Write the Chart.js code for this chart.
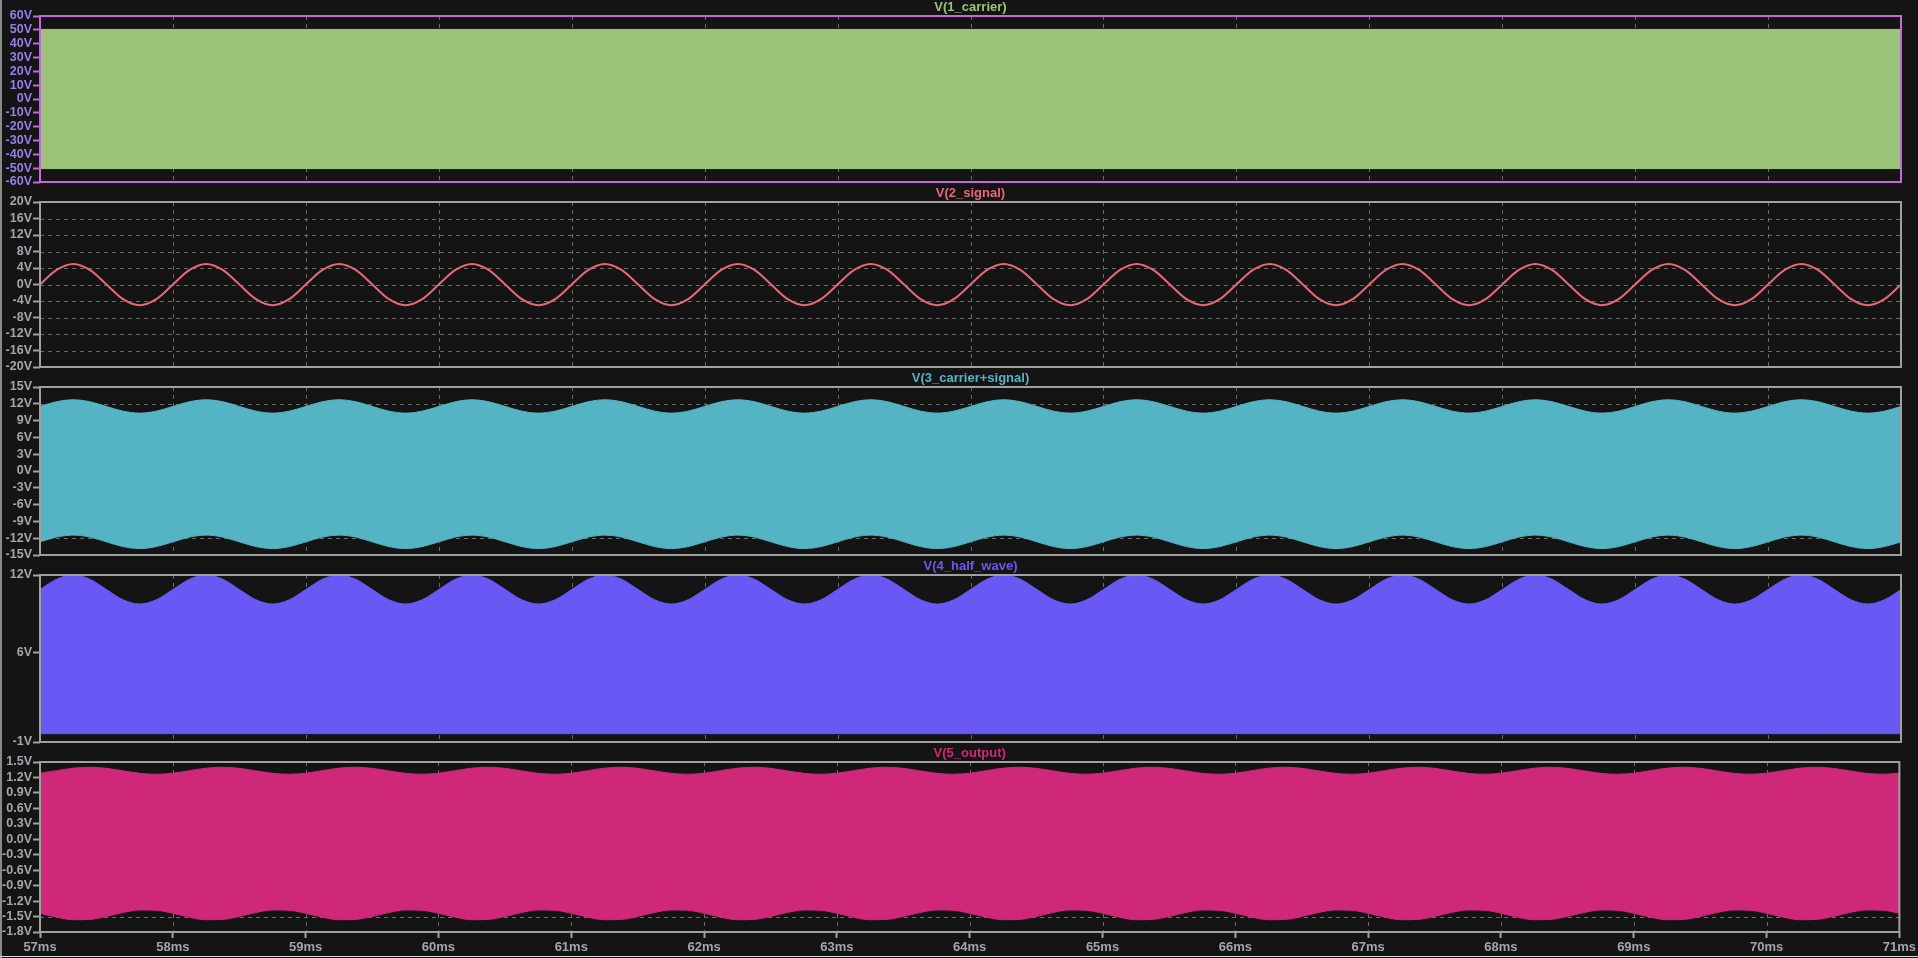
<!DOCTYPE html>
<html>
<head>
<meta charset="utf-8">
<script src="https://cdn.jsdelivr.net/npm/chart.js@4/dist/chart.umd.min.js"></script>
<style>
  html, body { margin:0; padding:0; background:#141414; width:1918px; height:958px; overflow:hidden; }
  canvas { position:absolute; left:0; top:0; }
  #edgeL { position:absolute; left:0; top:0; width:2px; height:958px; background:#8a8a8a; }
  #edgeB { position:absolute; left:0; top:956px; width:1918px; height:1px; background:#d8d8d8; }
</style>
</head>
<body>
<div id="edgeL"></div>
<div id="edgeB"></div>
<script>
// ---------- data ----------
const xTicksMs = [57,58,59,60,61,62,63,64,65,66,67,68,69,70,71];

const timeMs = [
57,57.125,57.25,57.375,57.5,57.625,57.75,57.875,
58,58.125,58.25,58.375,58.5,58.625,58.75,58.875,
59,59.125,59.25,59.375,59.5,59.625,59.75,59.875,
60,60.125,60.25,60.375,60.5,60.625,60.75,60.875,
61,61.125,61.25,61.375,61.5,61.625,61.75,61.875,
62,62.125,62.25,62.375,62.5,62.625,62.75,62.875,
63,63.125,63.25,63.375,63.5,63.625,63.75,63.875,
64,64.125,64.25,64.375,64.5,64.625,64.75,64.875,
65,65.125,65.25,65.375,65.5,65.625,65.75,65.875,
66,66.125,66.25,66.375,66.5,66.625,66.75,66.875,
67,67.125,67.25,67.375,67.5,67.625,67.75,67.875,
68,68.125,68.25,68.375,68.5,68.625,68.75,68.875,
69,69.125,69.25,69.375,69.5,69.625,69.75,69.875,
70,70.125,70.25,70.375,70.5,70.625,70.75,70.875,
71];

// V(1_carrier): envelope of the dense carrier
const carrierTime  = [57, 71];
const carrierUpper = [50.3, 50.3];
const carrierLower = [-50.3, -50.3];

// V(2_signal)
const signalV = [
0,3.54,5,3.54,0,-3.54,-5,-3.54,
0,3.54,5,3.54,0,-3.54,-5,-3.54,
0,3.54,5,3.54,0,-3.54,-5,-3.54,
0,3.54,5,3.54,0,-3.54,-5,-3.54,
0,3.54,5,3.54,0,-3.54,-5,-3.54,
0,3.54,5,3.54,0,-3.54,-5,-3.54,
0,3.54,5,3.54,0,-3.54,-5,-3.54,
0,3.54,5,3.54,0,-3.54,-5,-3.54,
0,3.54,5,3.54,0,-3.54,-5,-3.54,
0,3.54,5,3.54,0,-3.54,-5,-3.54,
0,3.54,5,3.54,0,-3.54,-5,-3.54,
0,3.54,5,3.54,0,-3.54,-5,-3.54,
0,3.54,5,3.54,0,-3.54,-5,-3.54,
0,3.54,5,3.54,0,-3.54,-5,-3.54,
0];

// V(3_carrier+signal): upper / lower envelopes
const sumUpper = [
11.53,12.37,12.72,12.37,11.53,10.69,10.34,10.69,
11.53,12.37,12.72,12.37,11.53,10.69,10.34,10.69,
11.53,12.37,12.72,12.37,11.53,10.69,10.34,10.69,
11.53,12.37,12.72,12.37,11.53,10.69,10.34,10.69,
11.53,12.37,12.72,12.37,11.53,10.69,10.34,10.69,
11.53,12.37,12.72,12.37,11.53,10.69,10.34,10.69,
11.53,12.37,12.72,12.37,11.53,10.69,10.34,10.69,
11.53,12.37,12.72,12.37,11.53,10.69,10.34,10.69,
11.53,12.37,12.72,12.37,11.53,10.69,10.34,10.69,
11.53,12.37,12.72,12.37,11.53,10.69,10.34,10.69,
11.53,12.37,12.72,12.37,11.53,10.69,10.34,10.69,
11.53,12.37,12.72,12.37,11.53,10.69,10.34,10.69,
11.53,12.37,12.72,12.37,11.53,10.69,10.34,10.69,
11.53,12.37,12.72,12.37,11.53,10.69,10.34,10.69,
11.53];
const sumLower = [
-12.65,-11.80,-11.45,-11.80,-12.65,-13.50,-13.85,-13.50,
-12.65,-11.80,-11.45,-11.80,-12.65,-13.50,-13.85,-13.50,
-12.65,-11.80,-11.45,-11.80,-12.65,-13.50,-13.85,-13.50,
-12.65,-11.80,-11.45,-11.80,-12.65,-13.50,-13.85,-13.50,
-12.65,-11.80,-11.45,-11.80,-12.65,-13.50,-13.85,-13.50,
-12.65,-11.80,-11.45,-11.80,-12.65,-13.50,-13.85,-13.50,
-12.65,-11.80,-11.45,-11.80,-12.65,-13.50,-13.85,-13.50,
-12.65,-11.80,-11.45,-11.80,-12.65,-13.50,-13.85,-13.50,
-12.65,-11.80,-11.45,-11.80,-12.65,-13.50,-13.85,-13.50,
-12.65,-11.80,-11.45,-11.80,-12.65,-13.50,-13.85,-13.50,
-12.65,-11.80,-11.45,-11.80,-12.65,-13.50,-13.85,-13.50,
-12.65,-11.80,-11.45,-11.80,-12.65,-13.50,-13.85,-13.50,
-12.65,-11.80,-11.45,-11.80,-12.65,-13.50,-13.85,-13.50,
-12.65,-11.80,-11.45,-11.80,-12.65,-13.50,-13.85,-13.50,
-12.65];

// V(4_half_wave)
const halfUpper = [
10.87,11.67,12.0,11.67,10.87,10.07,9.74,10.07,
10.87,11.67,12.0,11.67,10.87,10.07,9.74,10.07,
10.87,11.67,12.0,11.67,10.87,10.07,9.74,10.07,
10.87,11.67,12.0,11.67,10.87,10.07,9.74,10.07,
10.87,11.67,12.0,11.67,10.87,10.07,9.74,10.07,
10.87,11.67,12.0,11.67,10.87,10.07,9.74,10.07,
10.87,11.67,12.0,11.67,10.87,10.07,9.74,10.07,
10.87,11.67,12.0,11.67,10.87,10.07,9.74,10.07,
10.87,11.67,12.0,11.67,10.87,10.07,9.74,10.07,
10.87,11.67,12.0,11.67,10.87,10.07,9.74,10.07,
10.87,11.67,12.0,11.67,10.87,10.07,9.74,10.07,
10.87,11.67,12.0,11.67,10.87,10.07,9.74,10.07,
10.87,11.67,12.0,11.67,10.87,10.07,9.74,10.07,
10.87,11.67,12.0,11.67,10.87,10.07,9.74,10.07,
10.87];
const halfLowerTime = [57, 71];
const halfLower = [-0.35, -0.35];

// V(5_output)
const outUpper = [
1.283,1.332,1.380,1.398,1.377,1.328,1.280,1.262,
1.283,1.332,1.380,1.398,1.377,1.328,1.280,1.262,
1.283,1.332,1.380,1.398,1.377,1.328,1.280,1.262,
1.283,1.332,1.380,1.398,1.377,1.328,1.280,1.262,
1.283,1.332,1.380,1.398,1.377,1.328,1.280,1.262,
1.283,1.332,1.380,1.398,1.377,1.328,1.280,1.262,
1.283,1.332,1.380,1.398,1.377,1.328,1.280,1.262,
1.283,1.332,1.380,1.398,1.377,1.328,1.280,1.262,
1.283,1.332,1.380,1.398,1.377,1.328,1.280,1.262,
1.283,1.332,1.380,1.398,1.377,1.328,1.280,1.262,
1.283,1.332,1.380,1.398,1.377,1.328,1.280,1.262,
1.283,1.332,1.380,1.398,1.377,1.328,1.280,1.262,
1.283,1.332,1.380,1.398,1.377,1.328,1.280,1.262,
1.283,1.332,1.380,1.398,1.377,1.328,1.280,1.262,
1.283];
const outLower = [
-1.436,-1.512,-1.562,-1.556,-1.498,-1.422,-1.372,-1.378,
-1.436,-1.512,-1.562,-1.556,-1.498,-1.422,-1.372,-1.378,
-1.436,-1.512,-1.562,-1.556,-1.498,-1.422,-1.372,-1.378,
-1.436,-1.512,-1.562,-1.556,-1.498,-1.422,-1.372,-1.378,
-1.436,-1.512,-1.562,-1.556,-1.498,-1.422,-1.372,-1.378,
-1.436,-1.512,-1.562,-1.556,-1.498,-1.422,-1.372,-1.378,
-1.436,-1.512,-1.562,-1.556,-1.498,-1.422,-1.372,-1.378,
-1.436,-1.512,-1.562,-1.556,-1.498,-1.422,-1.372,-1.378,
-1.436,-1.512,-1.562,-1.556,-1.498,-1.422,-1.372,-1.378,
-1.436,-1.512,-1.562,-1.556,-1.498,-1.422,-1.372,-1.378,
-1.436,-1.512,-1.562,-1.556,-1.498,-1.422,-1.372,-1.378,
-1.436,-1.512,-1.562,-1.556,-1.498,-1.422,-1.372,-1.378,
-1.436,-1.512,-1.562,-1.556,-1.498,-1.422,-1.372,-1.378,
-1.436,-1.512,-1.562,-1.556,-1.498,-1.422,-1.372,-1.378,
-1.436];

// y tick labels per pane
const yTicks1 = [-60,-50,-40,-30,-20,-10,0,10,20,30,40,50,60];
const yTicks2 = [-20,-16,-12,-8,-4,0,4,8,12,16,20];
const yTicks3 = [-15,-12,-9,-6,-3,0,3,6,9,12,15];
const yTicks4 = [-1,6,12];
const yTicks5 = [-1.8,-1.5,-1.2,-0.9,-0.6,-0.3,0,0.3,0.6,0.9,1.2,1.5];

const titles = ['V(1_carrier)','V(2_signal)','V(3_carrier+signal)','V(4_half_wave)','V(5_output)'];

// ---------- rendering ----------
const W = 1918, H = 958;
const FONT = "'Liberation Sans', Arial, sans-serif";
const GRAY = '#a0a0a0';
const LABEL_GRAY = '#a2a7ad';
const GRID = '#6b6b6b';
const X_AXIS_H = 26;

function pts(xs, ys) { return xs.map((x, i) => ({x: x, y: ys[i]})); }

const panePlugin = {
  id: 'pane',
  beforeDatasetsDraw(chart, args, o) {
    const {ctx, chartArea: a, scales} = chart;
    ctx.save();
    ctx.strokeStyle = GRID; ctx.lineWidth = 1; ctx.setLineDash([4, 4]);
    scales.x.ticks.forEach(t => {
      const px = Math.round(scales.x.getPixelForValue(t.value)) + 0.5;
      if (px <= a.left + 2 || px >= a.right - 2) return;
      ctx.beginPath(); ctx.moveTo(px, a.top); ctx.lineTo(px, a.bottom); ctx.stroke();
    });
    scales.y.ticks.forEach(t => {
      const py = Math.round(scales.y.getPixelForValue(t.value)) + 0.5;
      if (py <= a.top + 2 || py >= a.bottom - 2) return;
      ctx.beginPath(); ctx.moveTo(a.left, py); ctx.lineTo(a.right, py); ctx.stroke();
    });
    ctx.restore();
  },
  afterDatasetsDraw(chart, args, o) {
    const {ctx, chartArea: a} = chart;
    ctx.save();
    ctx.strokeStyle = o.borderColor; ctx.lineWidth = 2;
    ctx.strokeRect(a.left, a.top, a.right - a.left, a.bottom - a.top);
    ctx.fillStyle = o.titleColor;
    ctx.font = 'bold 13px ' + FONT;
    ctx.textAlign = 'center'; ctx.textBaseline = 'middle';
    ctx.fillText(o.title, (a.left + a.right) / 2, a.top - 9);
    ctx.restore();
  }
};

function fillPair(color, xsU, up, xsL, lo) {
  return [
    {data: pts(xsU, up), borderColor: color, backgroundColor: color, borderWidth: 1,
     pointRadius: 0, fill: '+1', cubicInterpolationMode: 'monotone'},
    {data: pts(xsL, lo), borderColor: color, backgroundColor: color, borderWidth: 1,
     pointRadius: 0, fill: false, cubicInterpolationMode: 'monotone'}
  ];
}

function makePane(p) {
  const cv = document.createElement('canvas');
  cv.width = W; cv.height = H;
  cv.style.width = W + 'px'; cv.style.height = H + 'px';
  document.body.appendChild(cv);
  const xh = p.showX ? X_AXIS_H : 0;
  new Chart(cv, {
    type: 'line',
    data: {datasets: p.datasets},
    options: {
      responsive: false, animation: false, devicePixelRatio: 1,
      events: [],
      layout: {padding: {top: p.top, bottom: H - p.bottom - xh, left: 0, right: 17}},
      plugins: {
        legend: {display: false}, tooltip: {enabled: false}, title: {display: false},
        pane: {borderColor: p.borderColor, titleColor: p.color, title: p.title}
      },
      scales: {
        x: {
          type: 'linear', min: 57, max: 71,
          afterBuildTicks(s) { s.ticks = xTicksMs.map(v => ({value: v})); },
          afterFit(s) { s.height = xh; },
          border: {display: false},
          grid: {drawOnChartArea: false, drawTicks: p.showX, tickLength: 6, tickColor: GRAY, tickWidth: 2},
          ticks: {display: p.showX, color: LABEL_GRAY, padding: 2, maxRotation: 0, autoSkip: false,
                  font: {family: FONT, size: 13, weight: 'bold'},
                  callback: v => v + 'ms'}
        },
        y: {
          type: 'linear', min: p.yTicks[0], max: p.yTicks[p.yTicks.length - 1],
          afterBuildTicks(s) { s.ticks = p.yTicks.map(v => ({value: v})); },
          afterFit(s) { s.width = 40; },
          border: {display: false},
          grid: {drawOnChartArea: false, drawTicks: true, tickLength: 7, tickColor: p.borderColor, tickWidth: 2},
          ticks: {color: p.labelColor, padding: 1, autoSkip: false,
                  font: {family: FONT, size: 12.5, weight: 'bold'},
                  callback: p.fmt}
        }
      }
    },
    plugins: [panePlugin]
  });
}

const fmtInt = v => v + 'V';
const fmt1 = v => v.toFixed(1) + 'V';

makePane({top: 16, bottom: 182, title: titles[0], color: '#9bc47a', borderColor: '#c866dc',
  labelColor: '#9a7ee6', yTicks: yTicks1, fmt: fmtInt, showX: false,
  datasets: fillPair('#9bc47a', carrierTime, carrierUpper, carrierTime, carrierLower)});

makePane({top: 202, bottom: 367, title: titles[1], color: '#e8687a', borderColor: GRAY,
  labelColor: LABEL_GRAY, yTicks: yTicks2, fmt: fmtInt, showX: false,
  datasets: [{data: pts(timeMs, signalV), borderColor: '#e8687a', borderWidth: 2, pointRadius: 0,
              fill: false, cubicInterpolationMode: 'monotone'}]});

makePane({top: 387, bottom: 555, title: titles[2], color: '#55b4c4', borderColor: GRAY,
  labelColor: LABEL_GRAY, yTicks: yTicks3, fmt: fmtInt, showX: false,
  datasets: fillPair('#55b4c4', timeMs, sumUpper, timeMs, sumLower)});

makePane({top: 575, bottom: 742, title: titles[3], color: '#6a58f5', borderColor: GRAY,
  labelColor: LABEL_GRAY, yTicks: yTicks4, fmt: fmtInt, showX: false,
  datasets: fillPair('#6a58f5', timeMs, halfUpper, halfLowerTime, halfLower)});

makePane({top: 762, bottom: 932, title: titles[4], color: '#cf2879', borderColor: GRAY,
  labelColor: LABEL_GRAY, yTicks: yTicks5, fmt: fmt1, showX: true,
  datasets: fillPair('#cf2879', timeMs, outUpper, timeMs, outLower)});
</script>
</body>
</html>
